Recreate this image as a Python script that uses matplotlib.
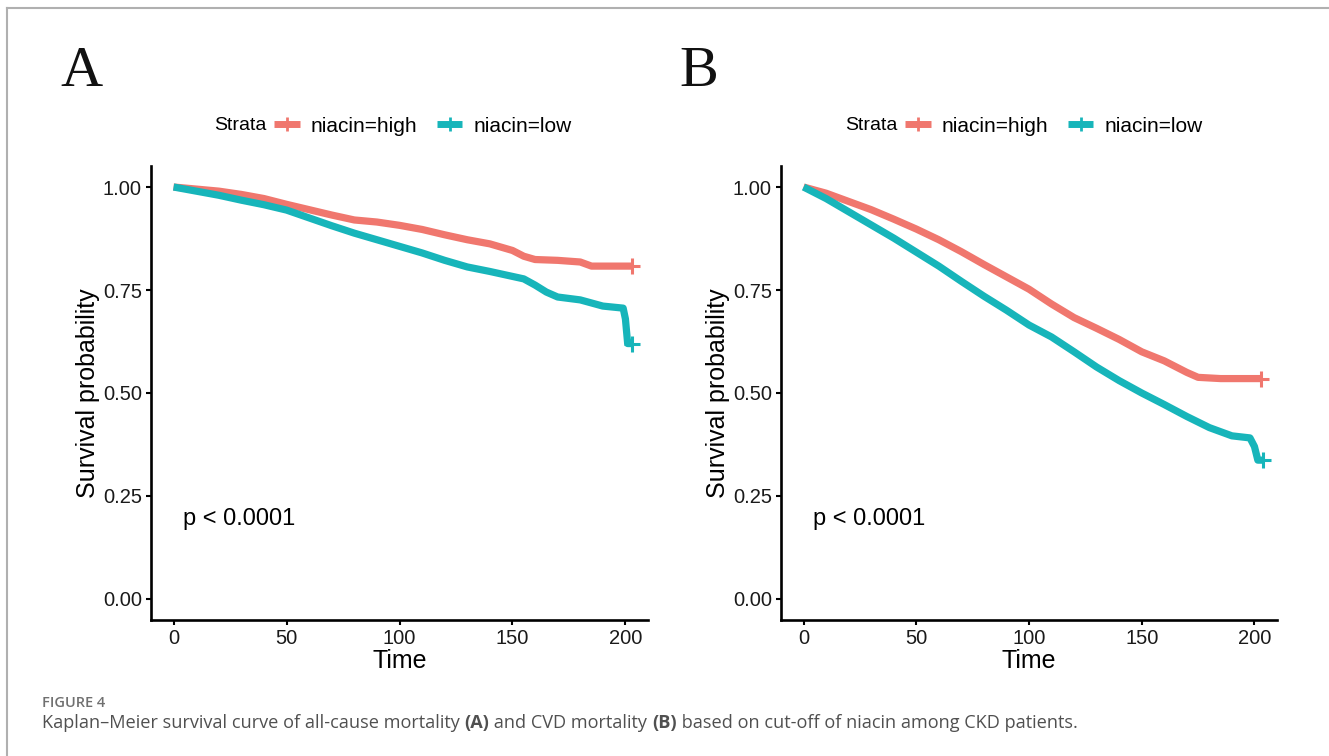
import matplotlib
matplotlib.use("Agg")
import matplotlib.pyplot as plt
from matplotlib.lines import Line2D

# ---------------- data ----------------
time_A_high = [0, 10, 20, 30, 40, 50, 60, 70, 80, 90, 100, 110, 120, 130, 140, 150, 155, 160, 170, 180, 185, 195, 203]
surv_A_high = [1.0, 0.995, 0.99, 0.982, 0.972, 0.958, 0.945, 0.932, 0.920, 0.915, 0.907, 0.897, 0.884, 0.872, 0.862,
               0.846, 0.832, 0.824, 0.822, 0.818, 0.808, 0.808, 0.808]
time_A_low = [0, 10, 20, 30, 40, 50, 60, 70, 80, 90, 100, 110, 120, 130, 140, 150, 155, 160, 165, 170, 180, 190, 199,
              200, 201, 203]
surv_A_low = [1.0, 0.99, 0.98, 0.968, 0.957, 0.944, 0.925, 0.906, 0.888, 0.872, 0.856, 0.840, 0.822, 0.806, 0.795,
              0.783, 0.777, 0.762, 0.745, 0.733, 0.726, 0.711, 0.706, 0.68, 0.62, 0.62]

time_B_high = [0, 10, 20, 30, 40, 50, 60, 70, 80, 90, 100, 110, 120, 130, 140, 150, 160, 170, 175, 185, 203]
surv_B_high = [1.0, 0.985, 0.965, 0.945, 0.922, 0.898, 0.872, 0.843, 0.812, 0.782, 0.752, 0.716, 0.683, 0.657, 0.630,
               0.600, 0.578, 0.55, 0.538, 0.535, 0.535]
time_B_low = [0, 10, 20, 30, 40, 50, 60, 70, 80, 90, 100, 110, 120, 130, 140, 150, 160, 170, 180, 190, 198, 200, 201.5,
              204]
surv_B_low = [1.0, 0.972, 0.940, 0.908, 0.876, 0.842, 0.808, 0.771, 0.735, 0.701, 0.665, 0.636, 0.600, 0.563, 0.530,
              0.500, 0.472, 0.443, 0.416, 0.396, 0.391, 0.37, 0.337, 0.337]

x_ticks = [0, 50, 100, 150, 200]
y_ticks = [0.0, 0.25, 0.50, 0.75, 1.00]
y_tick_labels = ["0.00", "0.25", "0.50", "0.75", "1.00"]
strata_labels = ["niacin=high", "niacin=low"]
panel_letters = ["A", "B"]
p_text = "p < 0.0001"

RED = "#F0776E"
CYAN = "#17B5BA"
SANS = ["Liberation Sans", "DejaVu Sans"]

W, H = 1329, 756
fig = plt.figure(figsize=(W / 100, H / 100), dpi=100)
fig.patch.set_facecolor("white")


def fx(px):
    return px / W


def fy(py):
    return 1 - py / H


panels = [
    dict(left=151, right=648, data=[(time_A_high, surv_A_high), (time_A_low, surv_A_low)], letter_x=60),
    dict(left=781, right=1277, data=[(time_B_high, surv_B_high), (time_B_low, surv_B_low)], letter_x=679),
]
top, bottom = 166, 620

for i, p in enumerate(panels):
    ax = fig.add_axes([fx(p["left"]), fy(bottom), fx(p["right"] - p["left"]), (bottom - top) / H])
    for (t, s), c in zip(p["data"], [RED, CYAN]):
        ax.plot(t, s, color=c, lw=5.2, solid_joinstyle="round", solid_capstyle="butt", zorder=3)
        ax.plot([t[-1]], [s[-1]], marker="+", ms=12, mew=2.2, color=c, zorder=4)
    ax.set_xlim(-10, 210)
    ax.set_ylim(-0.051, 1.051)
    ax.set_xticks(x_ticks)
    ax.set_yticks(y_ticks)
    ax.set_yticklabels(y_tick_labels)
    for sp in ["top", "right"]:
        ax.spines[sp].set_visible(False)
    for sp in ["left", "bottom"]:
        ax.spines[sp].set_linewidth(1.9)
        ax.spines[sp].set_color("black")
    ax.tick_params(axis="both", length=3.5, width=1.5, color="black", labelsize=14.5, labelcolor="#1a1a1a", pad=3)
    for lab in ax.get_xticklabels() + ax.get_yticklabels():
        lab.set_family(SANS)
    ax.set_xlabel("Time", fontsize=18, family=SANS, labelpad=1, color="black")
    ax.set_ylabel("Survival probability", fontsize=18, family=SANS, labelpad=2, color="black")
    ax.text(4, 0.195, p_text, fontsize=17, family=SANS, ha="left", va="center", color="black")

    # panel letter
    fig.text(fx(p["letter_x"]), fy(86), panel_letters[i], fontsize=42, family=["Liberation Serif", "DejaVu Serif"],
             ha="left", va="baseline", color="#111111")

    # legend (manual, in figure pixels)
    off = p["left"] - 151 + (1 if i == 1 else 0)
    ly = fy(124)
    fig.text(fx(214 + off), ly, "Strata", fontsize=14, family=SANS, ha="left", va="center_baseline", color="black")
    for (k0, k1, tx), c, lab in zip([(274, 300, 311), (437, 462, 474)], [RED, CYAN], strata_labels):
        fig.add_artist(Line2D([fx(k0 + off), fx(k1 + off)], [ly, ly], transform=fig.transFigure, color=c, lw=5.0,
                              solid_capstyle="butt"))
        fig.add_artist(Line2D([fx((k0 + k1) / 2 + off)], [ly], transform=fig.transFigure, color=c, marker="+",
                              ms=10, mew=2.0))
        fig.text(fx(tx + off), ly, lab, fontsize=15, family=SANS, ha="left", va="center_baseline", color="black")

# frame lines
fig.add_artist(Line2D([fx(7), 1.0], [fy(8), fy(8)], transform=fig.transFigure, color="#b0b0b0", lw=1.5))
fig.add_artist(Line2D([fx(7), fx(7)], [fy(8), 0.0], transform=fig.transFigure, color="#b0b0b0", lw=1.5))

# caption
CAP = ["Open Sans", "DejaVu Sans"]
fig.text(fx(42), fy(703), "FIGURE 4", fontsize=10.5, family=CAP, weight="semibold", color="#707070",
         ha="left", va="center")
pieces = [("Kaplan\u2013Meier survival curve of all-cause mortality ", "normal"), ("(A)", "bold"),
          (" and CVD mortality ", "normal"), ("(B)", "bold"),
          (" based on cut-off of niacin among CKD patients.", "normal")]
fig.canvas.draw()
renderer = fig.canvas.get_renderer()


def place_caption(size):
    x = fx(42)
    arts = []
    for txt, wt in pieces:
        t = fig.text(x, fy(723), txt, fontsize=size, family=CAP, weight=wt, color="#505050", ha="left", va="center")
        bb = t.get_window_extent(renderer=renderer)
        x += bb.width / W
        arts.append(t)
    return arts, x * W


arts, end = place_caption(12)
scale = (1072 - 42) / (end - 42)
for a in arts:
    a.remove()
place_caption(12 * scale)

fig.savefig("out.png", dpi=100, facecolor="white")
